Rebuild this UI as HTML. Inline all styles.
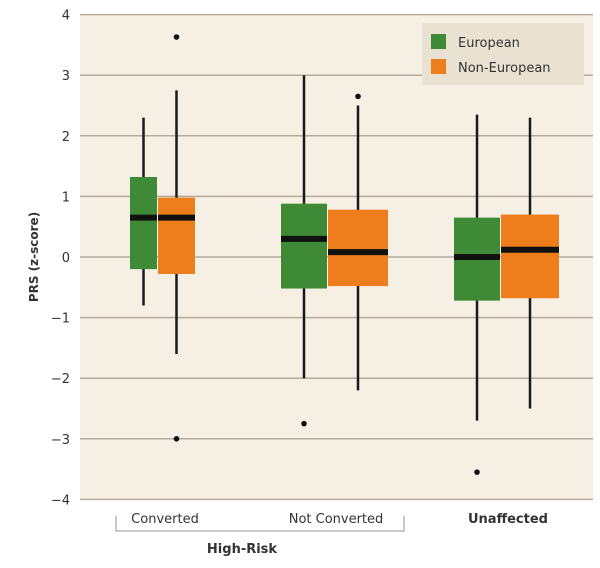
<!DOCTYPE html>
<html><head><meta charset="utf-8"><style>
body{margin:0;background:#fff;}
svg text{font-family:"DejaVu Sans","Liberation Sans",sans-serif;fill:#333;}
</style></head><body>
<svg id="chart" width="600" height="563">
<rect x="80" y="15" width="513" height="485" fill="#f6efe4"/>
<g id="grid"></g><g id="boxes"></g>
<g>
<rect x="422" y="23" width="162" height="62" fill="#e9e2d2"/>
<rect x="431" y="34" width="15" height="15" fill="#3f8a36"/>
<text x="458" y="47" font-size="13">European</text>
<rect x="431" y="59" width="15" height="15" fill="#ee7d1c"/>
<text x="458" y="72" font-size="13">Non-European</text>
</g>
<text transform="translate(38,257) rotate(-90)" text-anchor="middle" font-size="12" font-weight="bold">PRS (z-score)</text>
<text x="165" y="523" text-anchor="middle" font-size="13">Converted</text>
<text x="336" y="523" text-anchor="middle" font-size="13">Not Converted</text>
<text x="508" y="523" text-anchor="middle" font-size="13" font-weight="bold">Unaffected</text>
<path d="M116,516 V531 H404 V516" fill="none" stroke="#aaa" stroke-width="1.3"/>
<text x="242" y="553" text-anchor="middle" font-size="13" font-weight="bold">High-Risk</text>
</svg>
<script>
const yTicks=[4,3,2,1,0,-1,-2,-3,-4];
const groupCenters=[162,334,506];
const euroLow=[-0.8,-2.0,-2.7], euroQ1=[-0.2,-0.52,-0.72], euroMed=[0.65,0.3,0.0], euroQ3=[1.32,0.88,0.65], euroHigh=[2.3,3.0,2.35];
const nonLow=[-1.6,-2.2,-2.5], nonQ1=[-0.28,-0.48,-0.68], nonMed=[0.65,0.08,0.12], nonQ3=[0.98,0.78,0.7], nonHigh=[2.75,2.5,2.3];
const euroOutliers=[[],[-2.75],[-3.55]];
const nonOutliers=[[3.63,-3.0],[2.65],[]];
const euroW=[27,46,46], nonW=[37,60,58];
const NS='http://www.w3.org/2000/svg';
function y(v){return 257-v*60.6;}
function mk(t,a,p){const e=document.createElementNS(NS,t);for(const k in a)e.setAttribute(k,a[k]);p.appendChild(e);return e;}
const grid=document.getElementById('grid'), bx=document.getElementById('boxes');
yTicks.forEach(v=>{
 const l=mk('line',{x1:80,x2:593,y1:y(v),y2:y(v),stroke:'#b4ab9c','stroke-width':1.5},grid);
 
 
 const t=mk('text',{x:70,y:y(v)+5,'text-anchor':'end','font-size':13},grid);
 t.textContent=v<0?'\u2212'+(-v):String(v);
 
 
});
function drawBox(cx,w,lo,q1,md,q3,hi,outs,col,name){
 const g=mk('g',{},bx);
 
 
 mk('line',{x1:cx,x2:cx,y1:y(hi),y2:y(lo),stroke:'#1a1a1a','stroke-width':2.5},g);
 mk('rect',{x:cx-w/2,y:y(q3),width:w,height:y(q1)-y(q3),fill:col},g);
 mk('line',{x1:cx-w/2,x2:cx+w/2,y1:y(md),y2:y(md),stroke:'#111','stroke-width':6},g);
 outs.forEach(o=>{mk('circle',{cx:cx,cy:y(o),r:2.8,fill:'#111'},g);});
}
groupCenters.forEach((c,i)=>{
 const ge=c-nonW[i]/2+euroW[i]/2-euroW[i]/2-1; 
 const ec=c-euroW[i]/2-1, nc=c+nonW[i]/2;
 drawBox(c-(euroW[i]+nonW[i])/2+euroW[i]/2,euroW[i],euroLow[i],euroQ1[i],euroMed[i],euroQ3[i],euroHigh[i],euroOutliers[i],'#3f8a36','box-european-'+i);
 drawBox(c-(euroW[i]+nonW[i])/2+euroW[i]+1+nonW[i]/2,nonW[i],nonLow[i],nonQ1[i],nonMed[i],nonQ3[i],nonHigh[i],nonOutliers[i],'#ee7d1c','box-non-european-'+i);
});
</script>
</body></html>
